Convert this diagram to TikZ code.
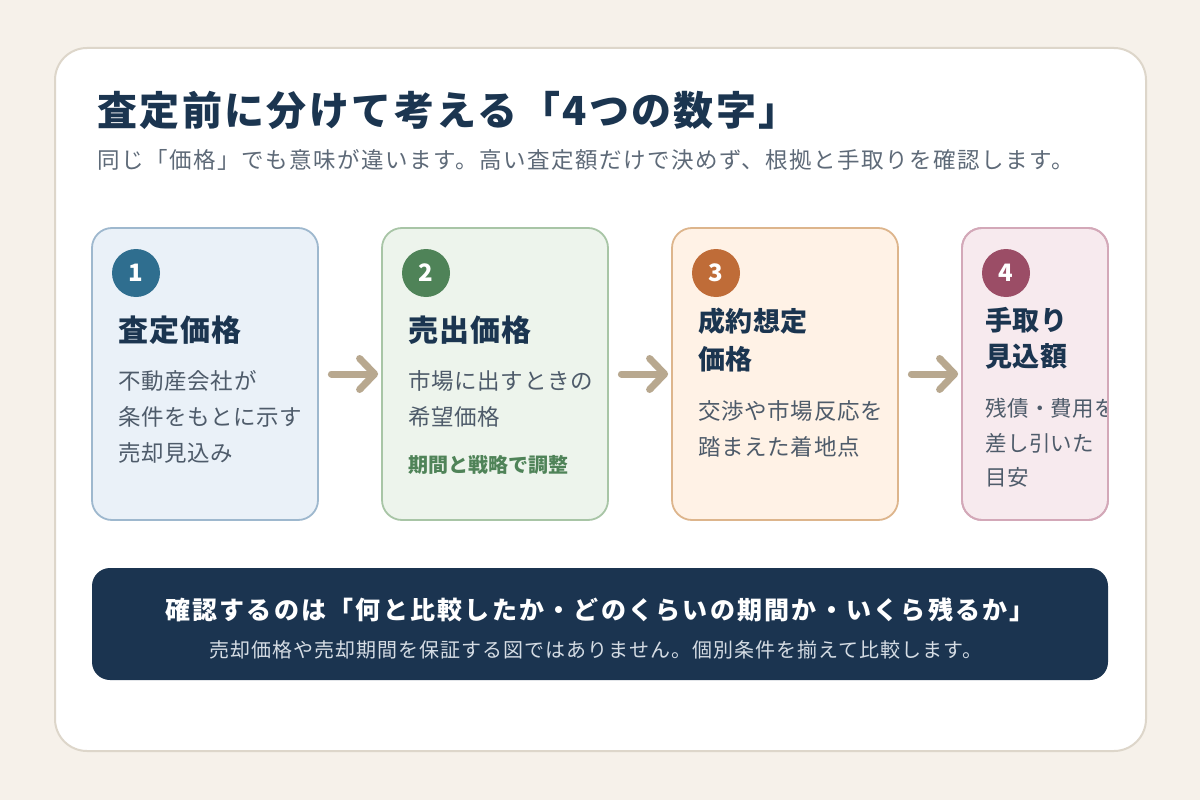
\documentclass[tikz,border=0pt]{standalone}
\usepackage{fontspec}
\setmainfont{Noto Sans CJK JP}
\usetikzlibrary{arrows.meta}
\definecolor{bg}{HTML}{F6F1EA}
\definecolor{cardline}{HTML}{DDD6CA}
\definecolor{navy}{HTML}{1B3550}
\definecolor{subgray}{HTML}{5E6A78}
\definecolor{bodygray}{HTML}{4E5B6A}
\definecolor{fillA}{HTML}{EAF1F8}\definecolor{lineA}{HTML}{9EB8CE}\definecolor{dotA}{HTML}{2F6E8F}
\definecolor{fillB}{HTML}{EDF4EC}\definecolor{lineB}{HTML}{A8C5A6}\definecolor{dotB}{HTML}{4F8358}
\definecolor{fillC}{HTML}{FFF2E6}\definecolor{lineC}{HTML}{DDB58C}\definecolor{dotC}{HTML}{BF6C38}
\definecolor{fillD}{HTML}{F7EAEE}\definecolor{lineD}{HTML}{D3A8B8}\definecolor{dotD}{HTML}{9B4D66}
\definecolor{arrowtan}{HTML}{B8A88F}
\definecolor{barnavy}{HTML}{1B3450}
\definecolor{barsub}{HTML}{D5DCE4}
\newcommand\fsz[1]{\fontsize{#1}{#1}\selectfont}
\newcommand\lsp[1]{\addfontfeatures{LetterSpace=#1}}
\tikzset{
  stepbox/.style={rectangle, rounded corners=20pt, line width=1.8pt, minimum width=226pt, minimum height=292pt, inner sep=0pt},
  numdot/.style={circle, minimum size=48pt, inner sep=0pt, text=white, font=\fsz{24}\bfseries},
  txt/.style={anchor=west, inner sep=0pt},
  head/.style={txt, text=navy, font=\bfseries\fsz{30}\lsp{3.5}},
  headsm/.style={txt, text=navy, font=\bfseries\fsz{27}\lsp{1.5}},
  body/.style={txt, text=bodygray, font=\fsz{22.5}\lsp{3}},
  flow/.style={draw=arrowtan, line width=7pt, line cap=round, -{Straight Barb[length=15pt,width=31pt,round]}, shorten <=12.5pt, shorten >=3pt},
}
\begin{document}
\begin{tikzpicture}[x=1pt,y=-1pt]
\useasboundingbox (0,0) rectangle (1200,800);
\fill[bg] (0,0) rectangle (1200,800);
\draw[cardline, fill=white, line width=2pt, rounded corners=32pt] (55,48) rectangle (1146,751);

\node[txt, text=navy, font=\bfseries\fsz{40}\lsp{6}] (title) at (97,110) {査定前に分けて考える「4つの数字」};
\node[txt, text=subgray, font=\fsz{22.5}\lsp{6.7}] (subtitle) at (97,160) {同じ「価格」でも意味が違います。高い査定額だけで決めず、根拠と手取りを確認します。};

% boxes
\node[stepbox, fill=fillA, draw=lineA] (b1) at (205,374) {};
\node[stepbox, fill=fillB, draw=lineB] (b2) at (495,374) {};
\node[stepbox, fill=fillC, draw=lineC] (b3) at (785,374) {};
\node[stepbox, fill=fillD, draw=lineD, minimum width=146pt] (b4) at (1035,374) {};

% box 1
\node[numdot, fill=dotA] (n1) at (136,273) {1};
\node[head] (h1) at (118,330) {査定価格};
\node[body] (t1a) at (118,381) {不動産会社が};
\node[body] (t1b) at (118,417) {条件をもとに示す};
\node[body] (t1c) at (118,453) {売却見込み};

% box 2
\node[numdot, fill=dotB] (n2) at (426,273) {2};
\node[head] (h2) at (408,330) {売出価格};
\node[body] (t2a) at (408,381) {市場に出すときの};
\node[body] (t2b) at (408,417) {希望価格};
\node[txt, text=dotB, font=\bfseries\fsz{20}] (t2c) at (408,465) {期間と戦略で調整};

% box 3
\node[numdot, fill=dotC] (n3) at (716,273) {3};
\node[headsm] (h3a) at (698,321) {成約想定};
\node[headsm] (h3b) at (698,359) {価格};
\node[body] (t3a) at (698,411) {交渉や市場反応を};
\node[body] (t3b) at (698,447) {踏まえた着地点};

% box 4
\node[numdot, fill=dotD] (n4) at (1006,273) {4};
\node[headsm] (h4a) at (985,320) {手取り};
\node[headsm] (h4b) at (985,356) {見込額};
\begin{scope}
\clip[rounded corners=20pt] (962,228) rectangle (1108,520);
\node[body, font=\fsz{21.5}\lsp{2}] (t4a) at (985,408) {残債・費用を};
\node[body, font=\fsz{21.5}\lsp{2}] (t4b) at (985,443) {差し引いた};
\node[body, font=\fsz{21.5}\lsp{2}] (t4c) at (985,477) {目安};
\end{scope}
\node[stepbox, draw=lineD, minimum width=146pt] (b4frame) at (1035,374) {};

% arrows
\draw[flow] (b1.east) -- (b2.west);
\draw[flow] (b2.east) -- (b3.west);
\draw[flow] (b3.east) -- (b4.west);

% bottom bar
\node[rectangle, rounded corners=18pt, fill=barnavy, minimum width=1016pt, minimum height=112pt, inner sep=0pt] (bar) at (600,624) {};
\node[inner sep=0pt, text=white, font=\bfseries\fsz{25}\lsp{9}] (bartitle) at (600,610) {確認するのは「何と比較したか・どのくらいの期間か・いくら残るか」};
\node[inner sep=0pt, text=barsub, font=\fsz{20}\lsp{5}] (barsub) at (596,650) {売却価格や売却期間を保証する図ではありません。個別条件を揃えて比較します。};
\end{tikzpicture}
\end{document}
